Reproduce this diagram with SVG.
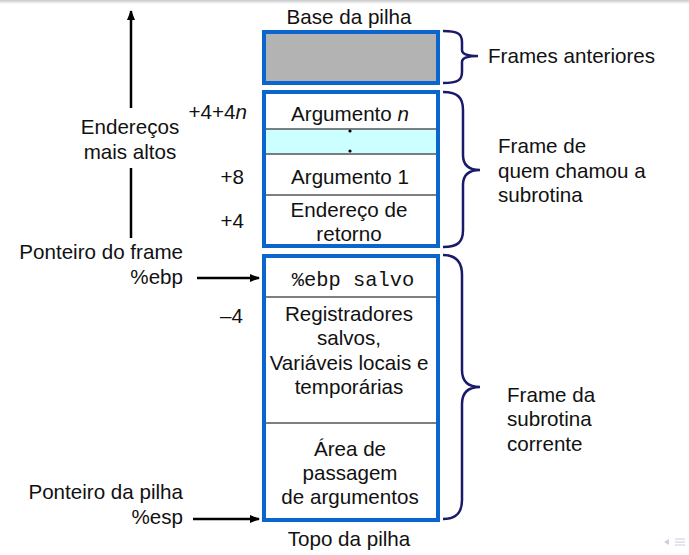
<svg xmlns="http://www.w3.org/2000/svg" width="689" height="555" viewBox="0 0 689 555">
<defs>
<linearGradient id="topg" x1="0" y1="0" x2="0" y2="1"><stop offset="0" stop-color="#c8c8c8"/><stop offset="1" stop-color="#ffffff"/></linearGradient>
<marker id="ah" viewBox="0 0 10 10" refX="9" refY="5" markerWidth="10" markerHeight="10" markerUnits="userSpaceOnUse" orient="auto"><path d="M0,1 L10,5 L0,9 z" fill="#000"/></marker>
</defs>
<style>
text{font-family:"Liberation Sans",Arial,sans-serif;font-size:20.6px;fill:#111}
.m{text-anchor:middle}
.r{text-anchor:end}
.mono{font-family:"Liberation Mono","Courier New",monospace;font-size:20.4px}
.frame{stroke:#0a66cc;stroke-width:4;fill:#fff}
.sep{stroke:#555;stroke-width:1.5}
.brace{fill:none;stroke:#1a1a6b;stroke-width:2.5}
.arr{stroke:#000;stroke-width:2.5;fill:none}
</style>
<rect width="689" height="555" fill="#fff"/>
<rect width="689" height="4" fill="url(#topg)"/>

<g id="frame-anteriores">
<text class="m" x="349" y="24">Base da pilha</text>
<rect class="frame" x="264" y="32" width="174" height="51" style="fill:#b3b3b3"/>
</g>

<g id="frame-chamador">
<rect class="frame" x="264" y="92" width="174" height="154"/>
<rect x="266" y="129" width="170" height="25" fill="#ccffff"/>
<line class="sep" x1="266" y1="129" x2="436" y2="129"/>
<line class="sep" x1="266" y1="154" x2="436" y2="154"/>
<line class="sep" x1="266" y1="195" x2="436" y2="195"/>
<text class="m" x="350" y="121">Argumento <tspan font-style="italic">n</tspan></text>
<circle cx="350" cy="131" r="1.6" fill="#000"/>
<circle cx="350" cy="151" r="1.6" fill="#000"/>
<text class="m" x="350" y="184">Argumento 1</text>
<text class="m" x="349" y="217">Endereço de</text>
<text class="m" x="349" y="241">retorno</text>
</g>

<g id="frame-corrente">
<rect class="frame" x="264" y="256" width="174" height="264"/>
<line class="sep" x1="266" y1="297" x2="436" y2="297"/>
<line class="sep" x1="266" y1="423" x2="436" y2="423"/>
<text class="m mono" x="353" y="286">%ebp salvo</text>
<text class="m" x="349" y="321">Registradores</text>
<text class="m" x="349" y="345">salvos,</text>
<text class="m" x="349" y="370">Variáveis locais e</text>
<text class="m" x="349" y="394">temporárias</text>
<text class="m" x="350" y="456">Área de</text>
<text class="m" x="350" y="480">passagem</text>
<text class="m" x="350" y="504">de argumentos</text>
<text class="m" x="349" y="546">Topo da pilha</text>
</g>

<g id="offsets">
<text class="r" x="247" y="119">+4+4<tspan font-style="italic">n</tspan></text>
<text class="r" x="244" y="184">+8</text>
<text class="r" x="244" y="228">+4</text>
<text class="r" x="243" y="323">–4</text>
</g>

<g id="labels-esquerda">
<text class="m" x="130" y="134">Endereços</text>
<text class="m" x="130" y="159">mais altos</text>
<text class="r" x="183" y="259">Ponteiro do frame</text>
<text class="r" x="183" y="284">%ebp</text>
<text class="r" x="183" y="499">Ponteiro da pilha</text>
<text class="r" x="183" y="524">%esp</text>
</g>

<g id="labels-direita">
<text x="488" y="63">Frames anteriores</text>
<text x="498" y="153">Frame de</text>
<text x="498" y="178">quem chamou a</text>
<text x="498" y="202">subrotina</text>
<text x="507" y="402">Frame da</text>
<text x="507" y="426">subrotina</text>
<text x="507" y="451">corrente</text>
</g>

<g id="connectors">
<line class="arr" x1="131" y1="108" x2="131" y2="11" marker-end="url(#ah)"/>
<line class="arr" x1="131" y1="168" x2="131" y2="238"/>
<line class="arr" x1="197" y1="278" x2="259" y2="278" marker-end="url(#ah)"/>
<line class="arr" x1="193" y1="519" x2="259" y2="519" marker-end="url(#ah)"/>
<path class="brace" d="M443,31 C458,31 462,34 462,42 L462,50 C462,54 466,56 478,56 C466,56 462,58 462,62 L462,72 C462,80 458,83 443,83"/>
<path class="brace" d="M443,92 C458,92 463,98 463,110 L463,155 C463,165 468,170 480,170 C468,170 463,175 463,185 L463,230 C463,242 458,247 443,247"/>
<path class="brace" d="M443,255 C456,255 462,262 462,275 L462,370 C462,381 468,387 480,387 C468,387 462,393 462,404 L462,500 C462,513 456,519 443,519"/>
</g>

<g id="nav" opacity="0.35">
<path d="M669,539 L664,542 L669,545 z" fill="#6677aa"/>
<line x1="675" y1="539" x2="685" y2="539" stroke="#6677aa" stroke-width="1"/>
<line x1="675" y1="542" x2="685" y2="542" stroke="#6677aa" stroke-width="1"/>
<line x1="675" y1="545" x2="685" y2="545" stroke="#6677aa" stroke-width="1"/>
</g>
</svg>
